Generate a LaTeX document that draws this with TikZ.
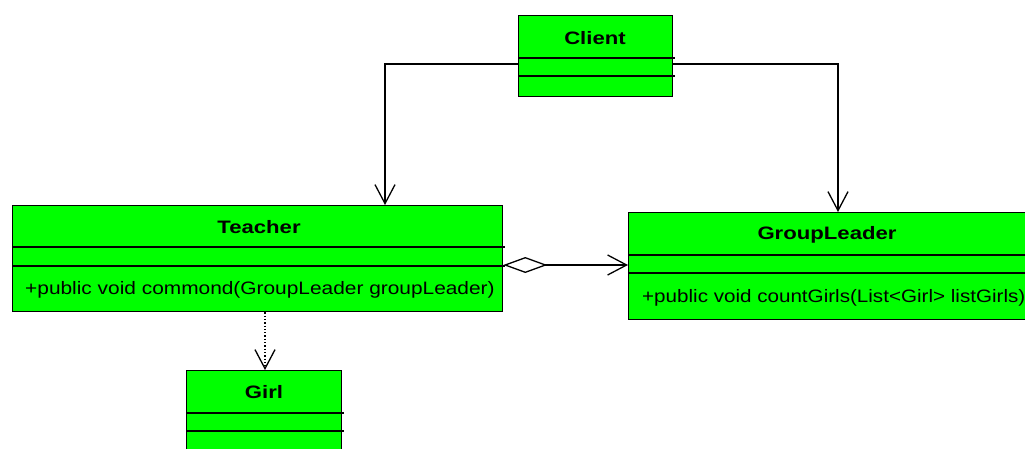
\documentclass[tikz,border=0pt]{standalone}
\usepackage{fontspec}
\setmainfont{Liberation Sans}
\usetikzlibrary{arrows.meta}
\definecolor{umlgreen}{RGB}{0,255,0}
\begin{document}
\begin{tikzpicture}[x={(1pt,0)},y={(0,-1pt)},
  classbox/.style={draw=black,fill=umlgreen,line width=1.3pt,rectangle,inner sep=0pt,anchor=north west},
  sepline/.style={draw=black,line width=1.3pt},
  cname/.style={inner sep=0pt,font=\fontsize{18}{21}\selectfont\bfseries},
  cmeth/.style={inner sep=0pt,anchor=west,font=\fontsize{18}{21}\selectfont},
  assoc/.style={draw=black,line width=1.3pt,-{Straight Barb[length=19pt,width=20pt]}},
  aggr/.style={draw=black,line width=1.3pt,{Diamond[open,length=44pt,width=16pt]}-{Straight Barb[length=19pt,width=20pt]}},
  dep/.style={draw=black,line width=1.3pt,dotted,-{Straight Barb[length=19pt,width=20pt]}}]
\useasboundingbox (0,0) rectangle (1025,448);
\clip (0,0) rectangle (1025,448);

% Client
\node[classbox,minimum width=154pt,minimum height=81pt] (client) at (518,15) {};
\draw[sepline] (518,58) -- (675,58);
\draw[sepline] (518,76) -- (675,76);
\node[cname] (clientname) at (595,38) {\scalebox{1.23}[1]{Client}};

% Teacher
\node[classbox,minimum width=490pt,minimum height=106pt] (teacher) at (12,205) {};
\draw[sepline] (12,247) -- (505,247);
\draw[sepline] (12,266) -- (505,266);
\node[cname] (teachername) at (259,227) {\scalebox{1.23}[1]{Teacher}};
\node[cmeth] (teachermeth) at (25,290) {\scalebox{1.16}[1]{+public void commond(GroupLeader groupLeader)}};

% GroupLeader
\node[classbox,minimum width=410pt,minimum height=107pt] (leader) at (628,212) {};
\draw[sepline] (628,255) -- (1040,255);
\draw[sepline] (628,273) -- (1040,273);
\node[cname] (leadername) at (827,235) {\scalebox{1.23}[1]{GroupLeader}};
\node[cmeth] (leadermeth) at (642,298) {\scalebox{1.145}[1]{+public void countGirls(List<Girl> listGirls)}};

% Girl
\node[classbox,minimum width=155pt,minimum height=90pt] (girl) at (186,370) {};
\draw[sepline] (186,413) -- (344,413);
\draw[sepline] (186,431) -- (344,431);
\node[cname] (girlname) at (264,392) {\scalebox{1.23}[1]{Girl}};

% connectors
\coordinate (lc) at (385,64);
\coordinate (rc) at (838,64);
\draw[assoc] (client.west |- lc) -| (teacher.north -| lc);
\draw[assoc] (client.east |- rc) -| (leader.north -| rc);
\coordinate (ag) at (0,265);
\draw[aggr] (teacher.east |- ag) -- (leader.west |- ag);
\coordinate (dp) at (265,0);
\draw[dep] (teacher.south -| dp) -- (girl.north -| dp);
\end{tikzpicture}
\end{document}
